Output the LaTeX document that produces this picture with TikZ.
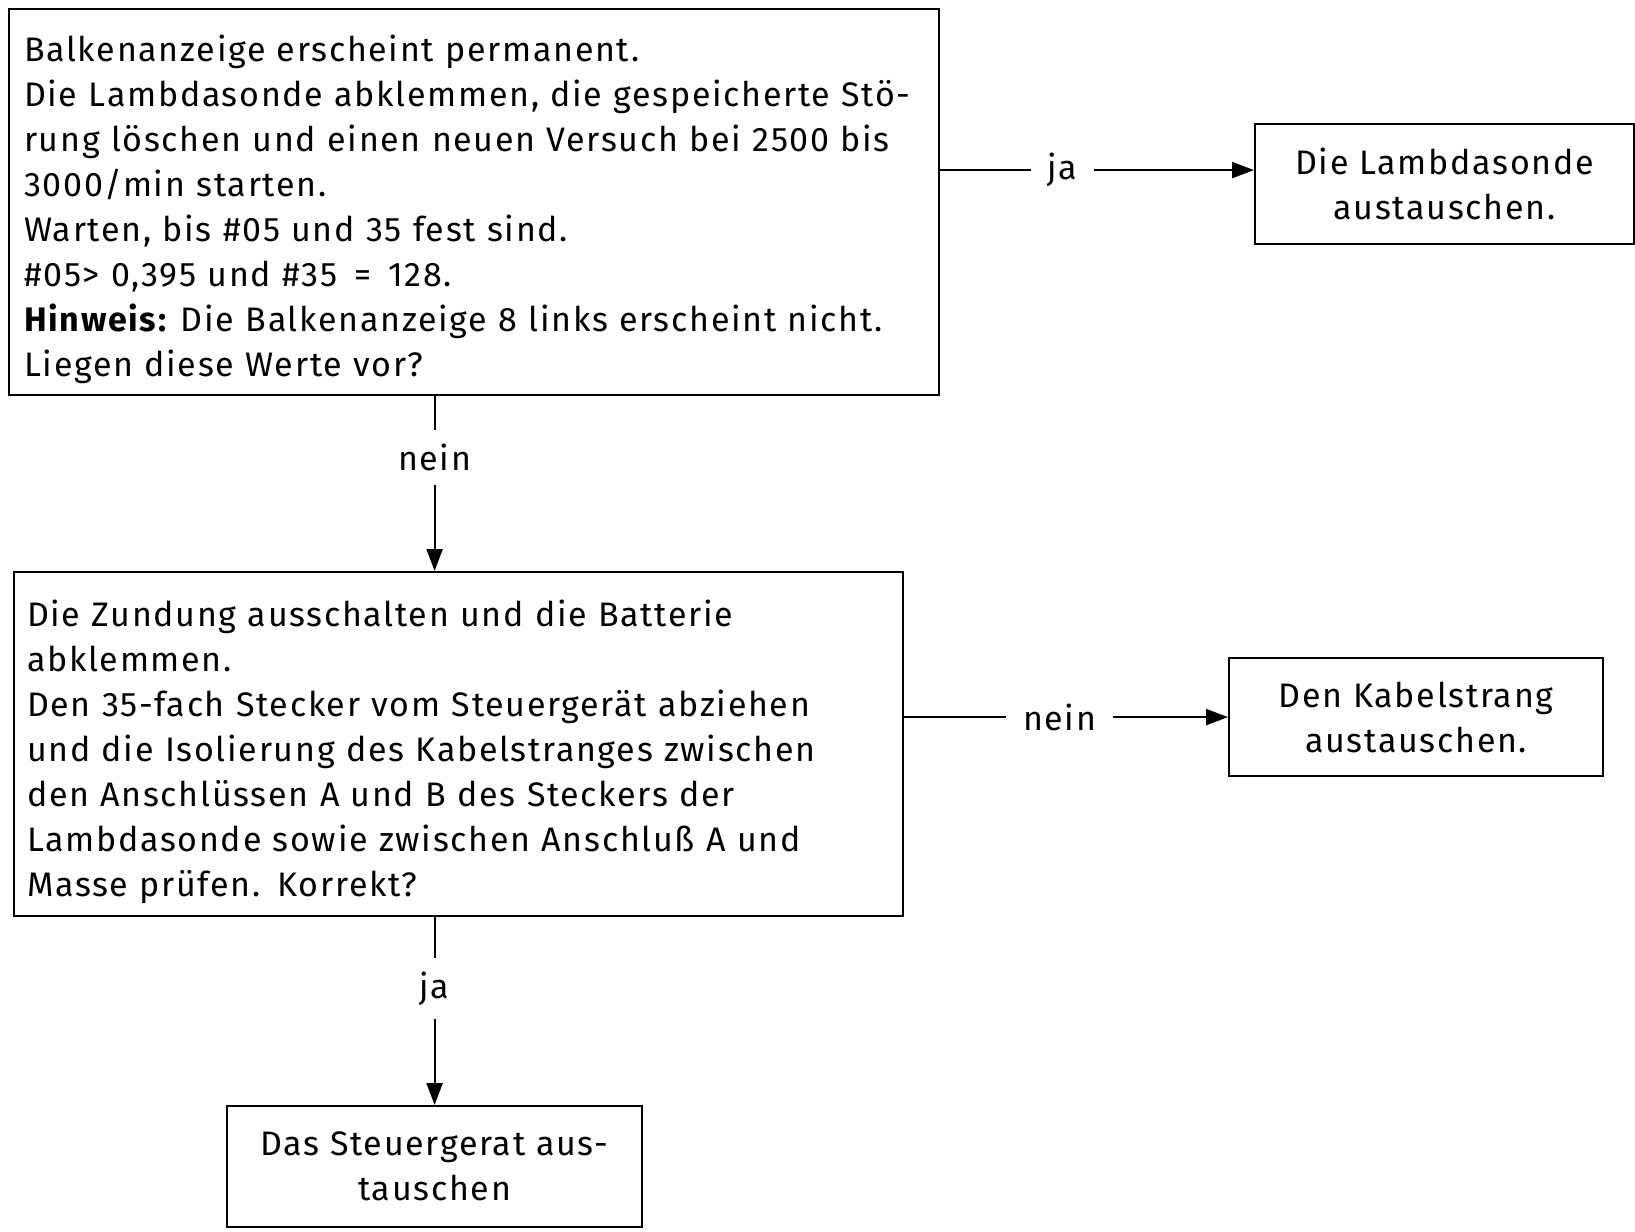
\documentclass[tikz,border=0pt]{standalone}
\usepackage{fontspec}
\setmainfont{Fira Sans}[LetterSpace=5]
\usetikzlibrary{arrows.meta}
\newcommand{\toppad}{\rule{0pt}{42pt}}
\begin{document}
\begin{tikzpicture}[x=1pt,y=-1pt,
  every node/.style={font=\fontsize{34}{45}\selectfont},
  box/.style={draw, line width=2.2pt, rectangle, inner ysep=0pt},
  textbox/.style={box, align=left, anchor=north west},
  endbox/.style={box, align=center, anchor=north west, inner xsep=0pt},
  flow/.style={line width=2.2pt, -{Triangle[length=22pt,width=16pt]}},
  lbl/.style={fill=white, inner xsep=17pt, inner ysep=14pt}
]
\useasboundingbox (0,0) rectangle (1635,1231);

% question boxes
\node[textbox, text width=900pt, inner xsep=15pt, minimum height=386pt] (b1) at (8,8)
{\toppad Balkenanzeige erscheint permanent.\\
Die Lambdasonde abklemmen, die gespeicherte Stö-\\
rung löschen und einen neuen Versuch bei 2500 bis\\
3000/min starten.\\
Warten, bis \#05 und 35 fest sind.\\
\#05> 0,395 und \#35 \,=\, 128.\\
\textbf{Hinweis:}\hspace{-4pt} Die Balkenanzeige 8 links erscheint nicht.\\
Liegen diese Werte vor?};

\node[textbox, text width=863pt, inner xsep=13pt, minimum height=344pt] (b3) at (13,571)
{\toppad Die Zundung ausschalten und die Batterie\\
abklemmen.\\
Den 35-fach Stecker vom Steuergerät abziehen\\
und die Isolierung des Kabelstranges zwischen\\
den Anschlüssen A und B des Steckers der\\
Lambdasonde sowie zwischen Anschluß A und\\
Masse prüfen. Korrekt?};

% action boxes
\node[endbox, minimum width=379pt, minimum height=120pt] (b2) at (1254,123)
{Die Lambdasonde\\austauschen.};
\node[endbox, minimum width=374pt, minimum height=118pt] (b4) at (1228,657)
{Den Kabelstrang\\austauschen.};
\node[endbox, minimum width=415pt, minimum height=121pt] (b5) at (226,1105)
{Das Steuergerat aus-\\tauschen};

% connectors
\coordinate (t2) at ([yshift=14pt]b2.west);
\draw[flow] (b1.east |- t2) -- node[lbl, pos=0.39] (l1) {ja} (t2);
\draw[flow] (b1.south -| b5.north) -- node[lbl, pos=0.35] (l2) {nein} (b3.north -| b5.north);
\draw[flow] (b3.east |- b4.west) -- node[lbl, pos=0.48] (l3) {nein} (b4.west);
\draw[flow] (b3.south -| b5.north) -- node[lbl, pos=0.38] (l4) {ja} (b5.north);
\end{tikzpicture}
\end{document}
